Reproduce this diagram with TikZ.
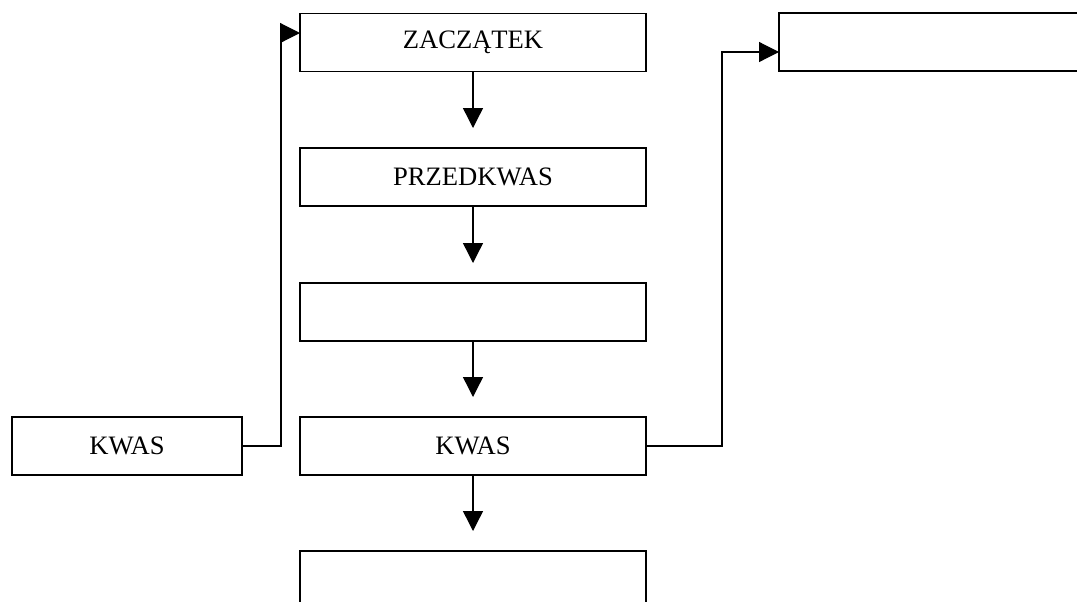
\documentclass[tikz,border=0pt]{standalone}
\usepackage{fontspec}
\setmainfont{Liberation Serif}
\usetikzlibrary{arrows.meta}
\tikzset{%
  tipA/.tip={Triangle[length=10pt,width=10pt]},
  blok/.style={draw, line width=0.9pt, minimum width=173pt, minimum height=29pt,
    inner sep=0pt, outer sep=0pt, font=\fontsize{13.3}{16}\selectfont},
  strz/.style={line width=0.7pt, -tipA, shorten >=10pt},
  lacz/.style={line width=0.6pt, -tipA}
}

\begin{document}
\begin{tikzpicture}[x=0.5pt,y=-0.5pt]
\useasboundingbox (0,0) rectangle (1077,601);
% main column
\node[blok] (zacz) at (473,42.5) {ZACZĄTEK};
\node[blok] (przed) at (473,177) {PRZEDKWAS};
\node[blok] (pusty) at (473,312) {};
\node[blok] (kwas) at (473,446) {KWAS};
\node[blok] (dol) at (473,580) {};
% side boxes
\node[blok, minimum width=115pt] (kwasL) at (127,446) {KWAS};
\node[blok] (prawy) at (952,42) {};
\draw[strz] (zacz) -- (przed);
\draw[strz] (przed) -- (pusty);
\draw[strz] (pusty) -- (kwas);
\draw[strz] (kwas) -- (dol);
% side connectors
\coordinate (bendL) at (281,33);
\coordinate (bendR) at (722,52);
\draw[lacz] (kwasL.east) -| (bendL) -- (bendL -| zacz.west);
\draw[lacz] (kwas.east) -| (bendR) -- (bendR -| prawy.west);
\end{tikzpicture}
\end{document}
